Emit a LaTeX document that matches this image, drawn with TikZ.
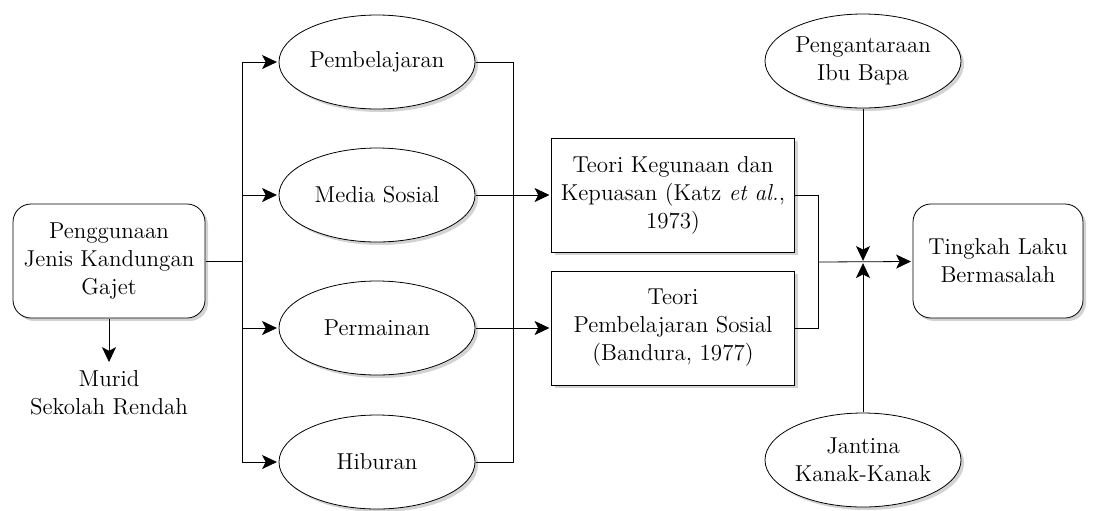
\documentclass[tikz,border=0pt]{standalone}
\usetikzlibrary{shapes.geometric, arrows.meta, shadows}

\begin{document}
\begin{tikzpicture}
            \tikzset{x=0.5pt, y=-0.5pt, line width=0.9pt,
                every node/.style={font=\fontsize{11.5pt}{14pt}\selectfont, align=center, text=black}}
            \tikzstyle{shade}=[drop shadow={shadow xshift=1.5pt, shadow yshift=-1.5pt, fill=black!50, opacity=0.35}]
            \tikzstyle{oval}=[ellipse, draw, fill=white, shade, minimum width=98pt, minimum height=47pt, inner sep=0pt]
            \tikzstyle{theory}=[rectangle, draw, fill=white, shade, minimum width=121.5pt, minimum height=57pt, inner sep=0pt]
            \tikzstyle{rbox}=[rectangle, rounded corners=9pt, draw, fill=white, shade, minimum height=57pt, inner sep=0pt]
            \tikzstyle{arr}=[-{Stealth[length=8.5pt, width=8pt, inset=2pt]}]

            \useasboundingbox (0,0) rectangle (1095,510);

            % left side
            \draw (109, 261)    node[rbox, minimum width=96pt]  (usage)   {Penggunaan\\Jenis Kandungan\\Gajet};
            \draw (109, 393)    node                            (murid)   {Murid\\Sekolah Rendah};

            \draw (377, 62)     node[oval]      (pemb)    {Pembelajaran};
            \draw (377, 195)    node[oval]      (media)   {Media Sosial};
            \draw (377, 328)    node[oval]      (main)    {Permainan};
            \draw (377, 462)    node[oval]      (hibur)   {Hiburan};

            % theories
            \draw (673, 195)    node[theory]    (katz)    {Teori Kegunaan dan\\Kepuasan (Katz \textit{et al.},\\1973)};
            \draw (673, 328)    node[theory]    (bandura) {Teori\\Pembelajaran Sosial\\(Bandura, 1977)};

            % right side
            \draw (863, 61)     node[oval]      (ibu)     {Pengantaraan\\Ibu Bapa};
            \draw (863, 460)    node[oval]      (jantina) {Jantina\\Kanak-Kanak};
            \draw (998, 261)    node[rbox, minimum width=85pt]  (laku)    {Tingkah Laku\\Bermasalah};

            \coordinate (busL)  at (242, 261);
            \coordinate (busM)  at (513, 262);
            \coordinate (busR)  at (818, 262);
            \coordinate (meet)  at (863, 262);

            \draw [arr]     (usage) -- (murid);
            \draw           (usage) -- (busL);
            \draw [arr]     (busL) |- (pemb);
            \draw [arr]     (busL) |- (media);
            \draw [arr]     (busL) |- (main);
            \draw [arr]     (busL) |- (hibur);

            \draw           (pemb.east) -| (busM) |- (hibur.east);
            \draw [arr]     (media) -- (katz);
            \draw [arr]     (main) -- (bandura);

            \draw           (katz.east) -| (busR) |- (bandura.east);
            \draw [arr]     (busR) -- (laku);
            \draw [arr]     (ibu) -- (meet);
            \draw [arr]     (jantina) -- (meet);
        \end{tikzpicture}
\end{document}
